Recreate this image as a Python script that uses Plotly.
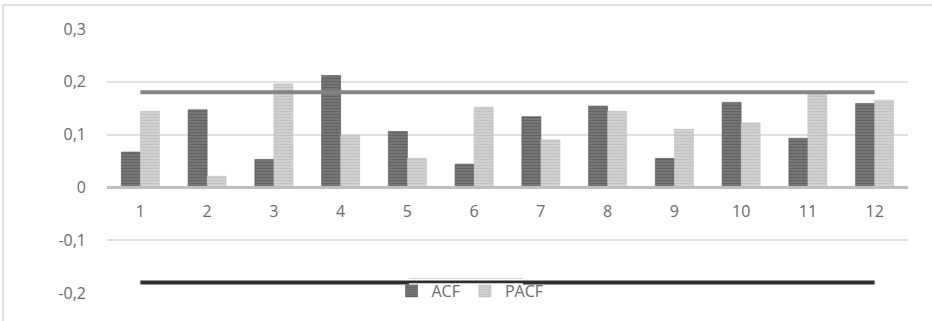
import plotly.graph_objects as go

lags = ["1", "2", "3", "4", "5", "6", "7", "8", "9", "10", "11", "12"]
acf = [0.067, 0.147, 0.053, 0.212, 0.106, 0.044, 0.134, 0.154, 0.055, 0.161, 0.093, 0.159]
pacf = [0.144, 0.021, 0.196, 0.099, 0.055, 0.152, 0.090, 0.144, 0.110, 0.122, 0.176, 0.165]
upper_bound = 0.18
lower_bound = -0.18
y_ticks = [-0.2, -0.1, 0, 0.1, 0.2, 0.3]
y_tick_labels = ["-0,2", "-0,1", "0", "0,1", "0,2", "0,3"]

W, H = 932, 321
L, R, T, B = 107, 24, 29, 28
plot_w = W - L - R
plot_h = H - T - B


def px_x(px):
    return (px - L) / plot_w


def px_y(py):
    return (H - B - py) / plot_h


FONT = "'Open Sans', Lato, sans-serif"
TXT = "#6a6a6a"

fig = go.Figure()
fig.add_trace(go.Bar(
    x=lags, y=acf, name="ACF",
    marker=dict(color="#666666", line=dict(color="#555555", width=0.6),
                pattern=dict(shape="-", fgcolor="#4d4d4d", bgcolor="#767676", size=3, solidity=0.35)),
))
fig.add_trace(go.Bar(
    x=lags, y=pacf, name="PACF",
    marker=dict(color="#c4c4c4", line=dict(color="#bdbdbd", width=0.6),
                pattern=dict(shape="-", fgcolor="#b4b4b4", bgcolor="#d0d0d0", size=3, solidity=0.35)),
))
fig.add_trace(go.Scatter(
    x=[lags[0], lags[-1]], y=[upper_bound, upper_bound], mode="lines",
    line=dict(color="#858585", width=4), showlegend=False, hoverinfo="skip",
))
fig.add_trace(go.Scatter(
    x=[lags[0], lags[-1]], y=[lower_bound, lower_bound], mode="lines",
    line=dict(color="#2e2e2e", width=4), showlegend=False, hoverinfo="skip",
))

fig.update_layout(
    width=W, height=H,
    margin=dict(l=L, r=R, t=T, b=B, pad=0),
    paper_bgcolor="white", plot_bgcolor="white",
    barmode="group", bargap=0.43, bargroupgap=0,
    font=dict(family=FONT, size=16, color=TXT),
    xaxis=dict(
        type="category", anchor="free", position=0.4, automargin=False,
        showgrid=False, showline=True, linecolor="#bfbfbf", linewidth=3,
        ticks="", tickfont=dict(family=FONT, size=16, color=TXT), ticklabelstandoff=8,
        zeroline=False,
    ),
    yaxis=dict(
        range=[-0.2, 0.3], tickvals=y_ticks, ticktext=y_tick_labels, automargin=False,
        showgrid=True, gridcolor="#e0e0e0", gridwidth=1.5,
        zeroline=False, showline=False, ticks="", ticklabelstandoff=20,
        tickfont=dict(family=FONT, size=16, color=TXT),
    ),
    legend=dict(
        orientation="h", x=px_x(470), xanchor="center",
        y=px_y(291), yanchor="middle",
        bgcolor="rgba(0,0,0,0)", font=dict(family=FONT, size=16, color=TXT),
        itemwidth=30, tracegroupgap=0,
    ),
    showlegend=True,
    shapes=[
        dict(type="line", xref="paper", yref="paper",
             x0=px_x(3), x1=px_x(W), y0=px_y(5), y1=px_y(5),
             line=dict(color="#d9d9d9", width=1.5)),
        dict(type="line", xref="paper", yref="paper",
             x0=px_x(3), x1=px_x(3), y0=px_y(5), y1=px_y(H),
             line=dict(color="#d9d9d9", width=1.5)),
        dict(type="rect", xref="paper", yref="paper",
             x0=px_x(409), x1=px_x(523), y0=px_y(283.2), y1=px_y(302),
             fillcolor="white", line=dict(width=0), layer="above"),
        dict(type="line", xref="paper", yref="paper",
             x0=px_x(409), x1=px_x(523), y0=px_y(278.5), y1=px_y(278.5),
             line=dict(color="#d6d6d6", width=1), layer="below"),
    ],
)

fig.write_html(
    "out.html",
    config={"displayModeBar": False},
    post_script="document.body.style.margin='0';document.body.style.overflow='hidden';",
)
